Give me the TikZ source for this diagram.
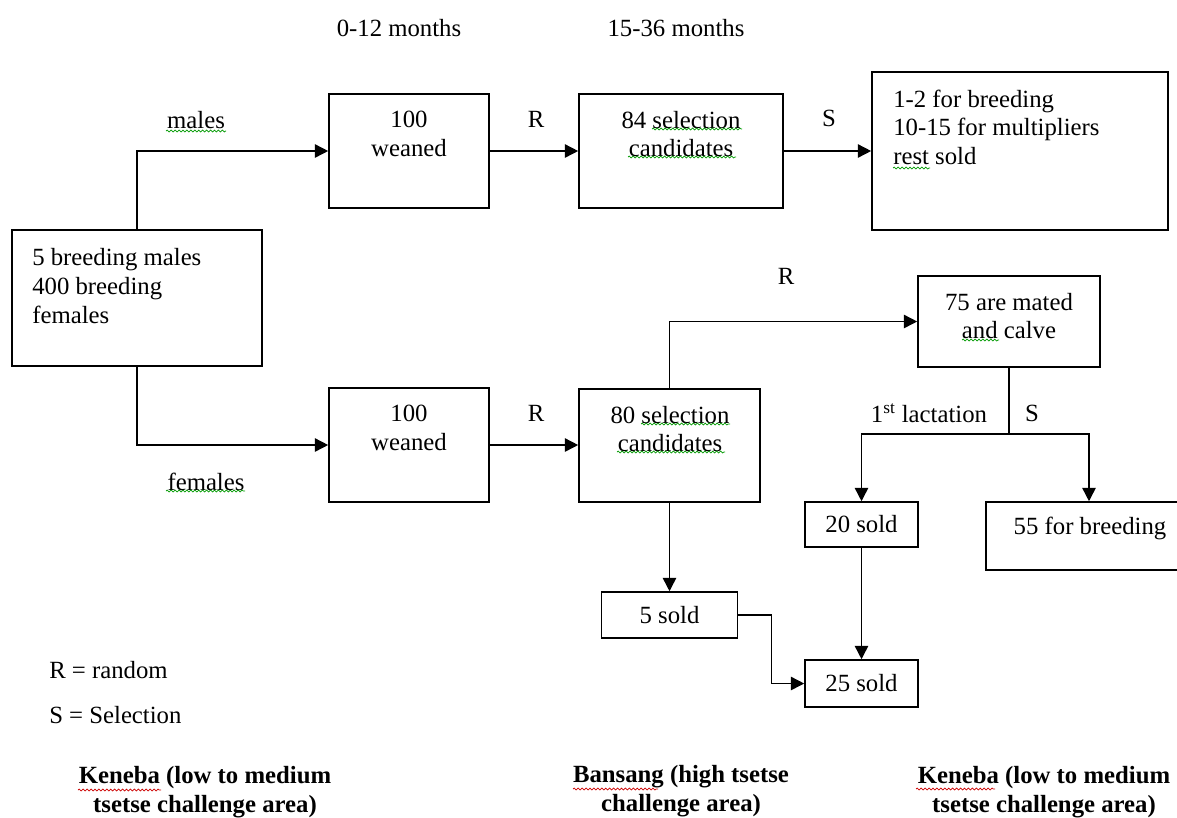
\documentclass[tikz,border=0pt]{standalone}
\usepackage{fontspec}
\setmainfont{Liberation Serif}
\usetikzlibrary{arrows.meta, positioning, calc, decorations.pathmorphing}

\begin{document}
\begin{tikzpicture}[
		x=0.025cm, y=-0.025cm,
		font=\fontsize{17.6}{20.3}\selectfont,
		box/.style={draw=black, line width=1.1pt, inner sep=0pt},
		txt/.style={inner sep=0pt, align=center},
		area/.style={inner sep=0pt, align=center, font=\fontsize{17.6}{20.3}\selectfont\bfseries},
		arrow/.style={-{Triangle[length=9.5pt, width=9.5pt]}, line width=1.1pt, black},
		squig/.style={decorate, decoration={snake, amplitude=0.7pt, segment length=2.8pt}, line width=0.5pt, green!60!black},
		squigred/.style={squig, red!80!black}
		]
		\useasboundingbox (0,0) rectangle (1177,817);
		
		% Time headers
		\node[txt] (age1) at (399,28) {0-12 months};
		\node[txt] (age2) at (676,28) {15-36 months};
		
		% Founder herd
		\node[box, minimum width=6.25cm, minimum height=3.4cm] (herd) at (137,298) {};
		\node[txt, align=left, anchor=west] (herdt) at (32,286) {5 breeding males\\400 breeding\\females};
		
		% Males line
		\node[box, minimum width=4cm, minimum height=2.85cm] (wean1) at (409,151) {};
		\node[txt] (wean1t) at (409,134) {100\\weaned};
		\node[box, minimum width=5.1cm, minimum height=2.85cm] (cand1) at (681,151) {};
		\node[txt] (cand1t) at (681,134) {84 selection\\candidates};
		\node[box, minimum width=7.4cm, minimum height=3.95cm] (fate1) at (1020,151) {};
		\node[txt, align=left, anchor=west] (fate1t) at (893,127) {1-2 for breeding\\10-15 for multipliers\\rest sold};
		
		% Females line
		\node[box, minimum width=4cm, minimum height=2.85cm] (wean2) at (409,445) {};
		\node[txt] (wean2t) at (409,428) {100\\weaned};
		\node[box, minimum width=4.525cm, minimum height=2.825cm] (cand2) at (669.5,445.5) {};
		\node[txt] (cand2t) at (670,429) {80 selection\\candidates};
		\node[box, minimum width=4.55cm, minimum height=2.275cm] (mated) at (1009,321.5) {};
		\node[txt] (matedt) at (1009,316) {75 are mated\\and calve};
		\node[box, minimum width=2.825cm, minimum height=1.125cm] (sold20) at (861.5,524.5) {20 sold};
		\node[box, minimum width=5.15cm, minimum height=1.7cm] (keep55) at (1089,536) {};
		\node[txt] (keep55t) at (1090,528) {55 for breeding};
		\node[box, minimum width=3.4cm, minimum height=1.15cm] (sold5) at (669.5,615) {5 sold};
		\node[box, minimum width=2.825cm, minimum height=1.175cm] (sold25) at (861.5,683.5) {25 sold};
		
		% Edge labels
		\node[txt] (lmales) at (196,120) {males};
		\node[txt] (lfemales) at (206,482) {females};
		\node[txt] (r1) at (536,119) {R};
		\node[txt] (r2) at (536,413) {R};
		\node[txt] (r3) at (786,276) {R};
		\node[txt] (s1) at (829,118) {S};
		\node[txt] (s2) at (1032,413) {S};
		\node[txt] (lact) at (929,413) {1\textsuperscript{st} lactation};
		
		% Legend
		\node[txt, anchor=west] (keyr) at (49,670) {R = random};
		\node[txt, anchor=west] (keys) at (49,715) {S = Selection};
		
		% Locations
		\node[area] (loc1) at (205,792) {Keneba (low to medium\\tsetse challenge area)};
		\node[area] (loc2) at (681,791) {Bansang (high tsetse\\challenge area)};
		\node[area] (loc3) at (1044,792) {Keneba (low to medium\\tsetse challenge area)};
		
		% Spell-check marks
		\draw[squig] (166,131) -- (226,131);
		\draw[squig] (166,491) -- (245,491);
		\draw[squig] (652,129) -- (742,129);
		\draw[squig] (628,157) -- (736,157);
		\draw[squig] (893,168) -- (930,168);
		\draw[squig] (641,424) -- (730,424);
		\draw[squig] (617,452) -- (725,452);
		\draw[squig] (962,340) -- (999,340);
		\draw[squigred] (78,790) -- (161,790);
		\draw[squigred] (573,789) -- (658,789);
		\draw[squigred] (916,789) -- (995,789);
		
		% Flows
		\draw[arrow] (herd.north) |- (wean1.west);
		\draw[arrow] (herd.south) |- (wean2.west);
		\draw[arrow] (wean1) -- (cand1);
		\draw[arrow] (cand1) -- (fate1);
		\draw[arrow] (wean2.east) -- (cand2.west |- wean2.east);
		\draw[arrow] (cand2.north) |- (mated.west);
		\draw[arrow] (cand2.south) -- (sold5.north);
		\coordinate (split) at ($(mated.south)+(0,66)$);
		\draw[line width=1.1pt] (mated.south) -- (split);
		\draw[arrow] (split) -| (sold20.north);
		\draw[arrow] (split) -| (keep55.north);
		\draw[arrow] (sold20) -- (sold25);
		\draw[arrow] (sold5.east) -- ++(33,0) |- (sold25.west);
		
	\end{tikzpicture}
\end{document}
